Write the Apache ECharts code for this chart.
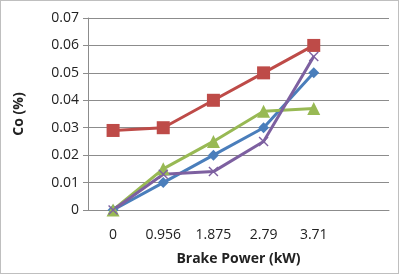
<!DOCTYPE html>
<html>
<head>
<meta charset="utf-8">
<script src="https://cdn.jsdelivr.net/npm/echarts@6/dist/echarts.min.js"></script>
<style>
  html, body { margin: 0; padding: 0; background: #fff; }
  #chart { width: 399px; height: 274px; box-sizing: border-box; border: 1px solid #bfbfbf; }
</style>
</head>
<body>
<div id="chart"></div>
<script>
// categories (last one empty, the Excel plot leaves a blank slot)
var categories = ['0', '0.956', '1.875', '2.79', '3.71', ''];
var seriesBlue = [0, 0.010, 0.020, 0.030, 0.050];
var seriesRed = [0.029, 0.030, 0.040, 0.050, 0.060];
var seriesGreen = [0, 0.015, 0.025, 0.036, 0.037];
var seriesPurple = [0, 0.013, 0.014, 0.025, 0.056];

var crossPath = 'path://M0,1 L1,0 L5,4 L9,0 L10,1 L6,5 L10,9 L9,10 L5,6 L1,10 L0,9 L4,5 Z';

var myChart = echarts.init(document.getElementById('chart'));

function line(name, data, color, symbol, size) {
    return {
        name: name,
        type: 'line',
        data: data,
        symbol: symbol,
        symbolSize: size,
        lineStyle: { color: color, width: 3 },
        itemStyle: { color: color },
        animation: false
    };
}

myChart.setOption({
    textStyle: { fontFamily: 'Open Sans' },
    grid: { left: 87, right: 9, top: 17, bottom: 63 },
    xAxis: {
        type: 'category',
        data: categories,
        boundaryGap: true,
        name: 'Brake Power (kW)',
        nameLocation: 'middle',
        nameGap: 42,
        nameTextStyle: { fontWeight: 'bold', fontSize: 14, color: '#222' },
        axisLine: { lineStyle: { color: '#8c8c8c' } },
        axisTick: { show: false },
        axisLabel: { color: '#222', fontSize: 14, margin: 18 },
        splitLine: { show: false }
    },
    yAxis: {
        type: 'value',
        min: 0,
        max: 0.07,
        interval: 0.01,
        name: 'Co (%)',
        nameLocation: 'middle',
        nameGap: 62,
        nameTextStyle: { fontWeight: 'bold', fontSize: 14, color: '#222' },
        axisLine: { show: true, lineStyle: { color: '#8c8c8c' } },
        axisTick: { show: true, length: 5, lineStyle: { color: '#8c8c8c' } },
        axisLabel: {
            color: '#222', fontSize: 14, margin: 9,
            formatter: function (v) { return v === 0 ? '0' : v.toFixed(2); }
        },
        splitLine: { lineStyle: { color: '#8c8c8c' } }
    },
    series: [
        line('Blue', seriesBlue, '#4a7ebb', 'diamond', 11),
        line('Red', seriesRed, '#be4b48', 'rect', 13),
        line('Green', seriesGreen, '#98b954', 'triangle', 13),
        line('Purple', seriesPurple, '#7d60a0', crossPath, 10)
    ]
});
</script>
</body>
</html>
